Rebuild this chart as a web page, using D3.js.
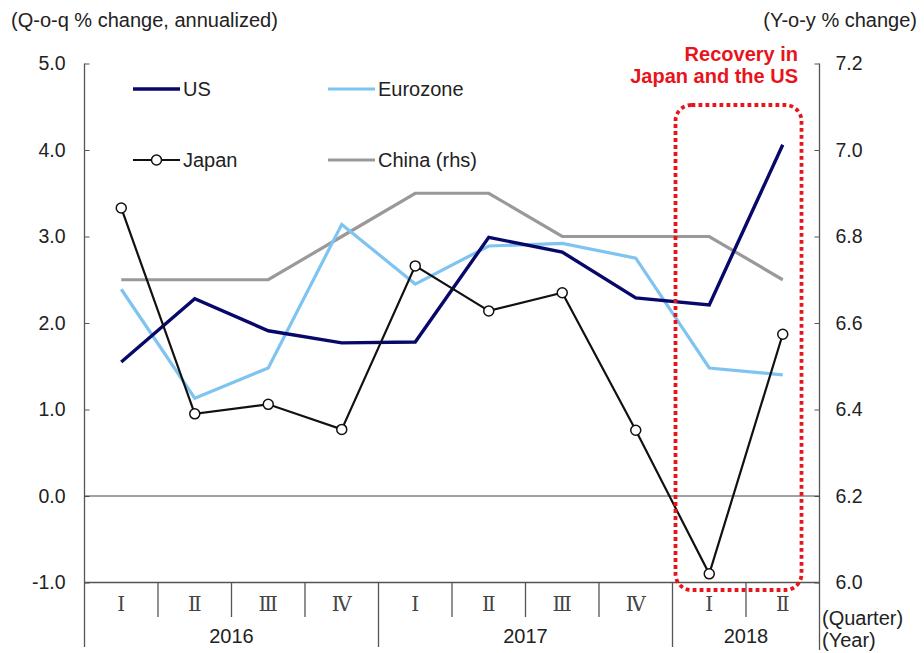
<!DOCTYPE html>
<html>
<head>
<meta charset="utf-8">
<script src="https://cdn.jsdelivr.net/npm/d3@7/dist/d3.min.js"></script>
<style>
  html, body { margin: 0; padding: 0; background: #fff; }
  svg { display: block; font-family: "Liberation Sans", Arial, sans-serif; }
</style>
</head>
<body>
<svg id="chart" width="924" height="653"></svg>
<script>
// Quarterly real GDP growth, 2016 Q1 – 2018 Q2
const quarters = ["2016Q1","2016Q2","2016Q3","2016Q4","2017Q1","2017Q2","2017Q3","2017Q4","2018Q1","2018Q2"];
const quarterLabels = ["Ⅰ","Ⅱ","Ⅲ","Ⅳ","Ⅰ","Ⅱ","Ⅲ","Ⅳ","Ⅰ","Ⅱ"];
const years = [
  { label: "2016", from: 0, to: 3 },
  { label: "2017", from: 4, to: 7 },
  { label: "2018", from: 8, to: 9 }
];
// Q-o-q % change, annualized (left axis)
const us       = [1.55, 2.28, 1.91, 1.77, 1.78, 2.99, 2.82, 2.29, 2.21, 4.06];
const eurozone = [2.39, 1.13, 1.48, 3.14, 2.45, 2.89, 2.92, 2.75, 1.48, 1.40];
const japan    = [3.33, 0.95, 1.06, 0.77, 2.66, 2.14, 2.35, 0.76, -0.90, 1.87];
// Y-o-y % change (right axis)
const china    = [6.7, 6.7, 6.7, 6.8, 6.9, 6.9, 6.8, 6.8, 6.8, 6.7];

const leftTicks  = [-1, 0, 1, 2, 3, 4, 5];
const rightTicks = [6.0, 6.2, 6.4, 6.6, 6.8, 7.0, 7.2];

const svg = d3.select("#chart");
const plot = { left: 84.5, right: 819.5, top: 63.5, bottom: 582.5 };
const textColor = "#222";
const axisColor = "#555";
const fs = 20;

const x = d3.scaleBand().domain(quarters).range([plot.left, plot.right]).padding(0);
const yL = d3.scaleLinear().domain([-1, 5]).range([plot.bottom, plot.top]);
const yR = d3.scaleLinear().domain([6.0, 7.2]).range([plot.bottom, plot.top]);
const cx = q => x(q) + x.bandwidth() / 2;
const fmt = d => d3.format(".1f")(d).replace("\u2212", "-");

// Axis titles
svg.append("text").attr("x", 11).attr("y", 27)
  .attr("font-size", fs).attr("fill", textColor)
  .text("(Q-o-q % change, annualized)");
svg.append("text").attr("x", 917).attr("y", 27).attr("text-anchor", "end")
  .attr("font-size", fs).attr("fill", textColor)
  .text("(Y-o-y % change)");

// Left axis
const leftAxis = d3.axisLeft(yL).tickValues(leftTicks).tickFormat(fmt)
  .tickSize(-5).tickPadding(19);
const gL = svg.append("g").attr("transform", `translate(${plot.left},0)`).call(leftAxis);
gL.select(".domain").remove();
gL.selectAll(".tick line").attr("stroke", axisColor);
gL.selectAll(".tick text").attr("font-size", 19.5).attr("fill", textColor)
  .attr("font-family", "Liberation Sans, Arial, sans-serif");

// Right axis
const rightAxis = d3.axisRight(yR).tickValues(rightTicks).tickFormat(fmt)
  .tickSize(-5).tickPadding(16);
const gR = svg.append("g").attr("transform", `translate(${plot.right},0)`).call(rightAxis);
gR.select(".domain").remove();
gR.selectAll(".tick line").attr("stroke", axisColor);
gR.selectAll(".tick text").attr("font-size", 19.5).attr("fill", textColor)
  .attr("font-family", "Liberation Sans, Arial, sans-serif");

// Axis frame lines
svg.append("line").attr("x1", plot.left).attr("x2", plot.left)
  .attr("y1", plot.top).attr("y2", 647).attr("stroke", axisColor).attr("stroke-width", 1.3);
svg.append("line").attr("x1", plot.right).attr("x2", plot.right)
  .attr("y1", plot.top).attr("y2", 650).attr("stroke", axisColor).attr("stroke-width", 1.3);
svg.append("line").attr("x1", plot.left).attr("x2", plot.right)
  .attr("y1", plot.bottom).attr("y2", plot.bottom).attr("stroke", axisColor).attr("stroke-width", 1.3);

// Zero line
svg.append("line").attr("x1", plot.left).attr("x2", plot.right)
  .attr("y1", yL(0)).attr("y2", yL(0)).attr("stroke", "#444").attr("stroke-width", 1);

// Category axis: quarter separators, quarter labels, year separators and labels
quarters.forEach((q, i) => {
  if (i > 0) {
    const isYearStart = years.some(y => y.from === i);
    svg.append("line").attr("x1", x(q)).attr("x2", x(q))
      .attr("y1", plot.bottom).attr("y2", isYearStart ? 647 : 617)
      .attr("stroke", axisColor).attr("stroke-width", 1.3);
  }
  svg.append("text").attr("x", cx(q)).attr("y", 611)
    .attr("text-anchor", "middle").attr("font-size", 20)
    .attr("font-family", "DejaVu Serif, Liberation Serif, serif")
    .attr("fill", "#444").text(quarterLabels[i]);
});
years.forEach(y => {
  const x0 = x(quarters[y.from]);
  const x1 = x(quarters[y.to]) + x.bandwidth();
  svg.append("text").attr("x", (x0 + x1) / 2).attr("y", 643)
    .attr("text-anchor", "middle").attr("font-size", fs).attr("fill", textColor)
    .text(y.label);
});
svg.append("text").attr("x", 822).attr("y", 625).attr("font-size", fs)
  .attr("fill", textColor).text("(Quarter)");
svg.append("text").attr("x", 822).attr("y", 647).attr("font-size", fs)
  .attr("fill", textColor).text("(Year)");

// Series lines
const lineL = d3.line().x((d, i) => cx(quarters[i])).y(d => yL(d));
const lineR = d3.line().x((d, i) => cx(quarters[i])).y(d => yR(d));

const colors = { us: "#08086a", euro: "#7fc4f0", china: "#999999", japan: "#111111" };

svg.append("path").datum(china).attr("d", lineR).attr("fill", "none")
  .attr("stroke", colors.china).attr("stroke-width", 3.2);
svg.append("path").datum(eurozone).attr("d", lineL).attr("fill", "none")
  .attr("stroke", colors.euro).attr("stroke-width", 3.2);
svg.append("path").datum(us).attr("d", lineL).attr("fill", "none")
  .attr("stroke", colors.us).attr("stroke-width", 3.4);
svg.append("path").datum(japan).attr("d", lineL).attr("fill", "none")
  .attr("stroke", colors.japan).attr("stroke-width", 2.2);
svg.selectAll("circle.jp").data(japan).enter().append("circle")
  .attr("class", "jp")
  .attr("cx", (d, i) => cx(quarters[i])).attr("cy", d => yL(d))
  .attr("r", 5).attr("fill", "#fff").attr("stroke", colors.japan).attr("stroke-width", 1.5);

// Legend
const legend = [
  { name: "US", color: colors.us, w: 3.4, x: 133, y: 89, marker: false },
  { name: "Eurozone", color: colors.euro, w: 3.2, x: 328, y: 89, marker: false },
  { name: "Japan", color: colors.japan, w: 2.2, x: 133, y: 160, marker: true },
  { name: "China (rhs)", color: colors.china, w: 3.2, x: 328, y: 160, marker: false }
];
legend.forEach(l => {
  svg.append("line").attr("x1", l.x).attr("x2", l.x + 47).attr("y1", l.y).attr("y2", l.y)
    .attr("stroke", l.color).attr("stroke-width", l.w);
  if (l.marker) {
    svg.append("circle").attr("cx", l.x + 23.5).attr("cy", l.y).attr("r", 5)
      .attr("fill", "#fff").attr("stroke", l.color).attr("stroke-width", 1.5);
  }
  svg.append("text").attr("x", l.x + 50).attr("y", l.y + 7).attr("font-size", fs)
    .attr("fill", textColor).text(l.name);
});

// Highlight box around 2018 Q1–Q2
const hx0 = x(quarters[8]) + 3, hx1 = x(quarters[9]) + x.bandwidth() - 18;
svg.append("rect").attr("x", hx0).attr("y", 105).attr("width", hx1 - hx0).attr("height", 485)
  .attr("rx", 16).attr("ry", 16).attr("fill", "none")
  .attr("stroke", "#e8141c").attr("stroke-width", 3.8)
  .attr("stroke-dasharray", "3.8 3.2");

svg.append("text").attr("x", 798).attr("y", 61).attr("text-anchor", "end")
  .attr("font-size", 20).attr("font-weight", "bold").attr("fill", "#e8141c")
  .text("Recovery in");
svg.append("text").attr("x", 798).attr("y", 83).attr("text-anchor", "end")
  .attr("font-size", 20).attr("font-weight", "bold").attr("fill", "#e8141c")
  .text("Japan and the US");
</script>
</body>
</html>
